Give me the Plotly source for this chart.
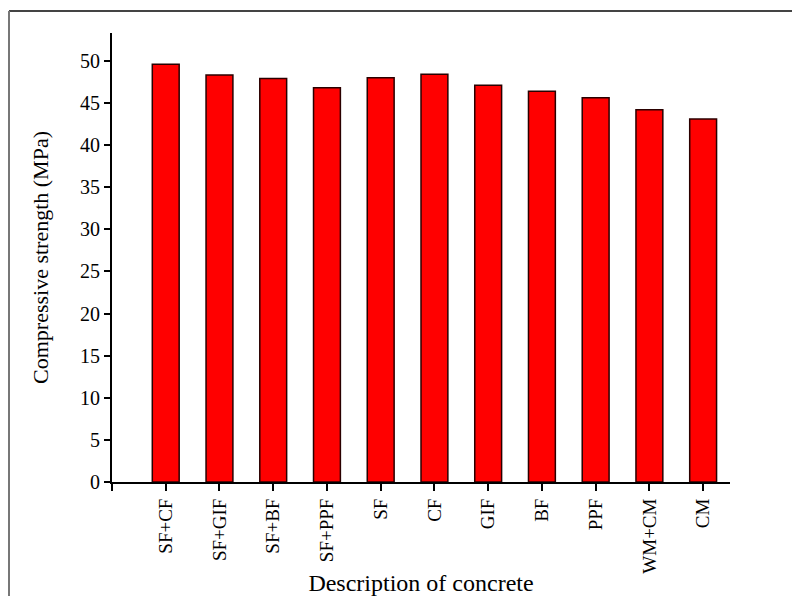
import plotly.graph_objects as go

categories = ["SF+CF", "SF+GIF", "SF+BF", "SF+PPF", "SF", "CF", "GIF", "BF", "PPF", "WM+CM", "CM"]
strength = [49.6, 48.3, 47.9, 46.8, 48.0, 48.4, 47.1, 46.4, 45.6, 44.2, 43.1]
y_ticks = [0, 5, 10, 15, 20, 25, 30, 35, 40, 45, 50]

idx = list(range(len(categories)))
font = "Liberation Serif, Times New Roman, serif"

fig = go.Figure(go.Bar(
    x=idx, y=strength, width=0.5,
    marker=dict(color="#ff0000", line=dict(color="#2a0000", width=1.5)),
))

L, R, T, B = 112, 62, 33, 114
fig.update_layout(
    width=792, height=596,
    margin=dict(l=L, r=R, t=T, b=B),
    paper_bgcolor="white", plot_bgcolor="white",
    font=dict(family=font, color="black"),
    showlegend=False,
    xaxis=dict(
        range=[-1, 10.5], tickmode="array", automargin=False,
        tickvals=[-1] + idx, ticktext=[""] + categories,
        tickangle=-90, tickfont=dict(size=19),
        ticks="outside", ticklen=7, tickwidth=2, tickcolor="black",
        showline=True, linecolor="black", linewidth=2,
        showgrid=False, zeroline=False,
        title=dict(text="Description of concrete", font=dict(size=24), standoff=1),
    ),
    yaxis=dict(
        range=[0, 53.3], tickmode="array", tickvals=y_ticks, automargin=False,
        tickfont=dict(size=20),
        ticks="outside", ticklen=6, tickwidth=2, tickcolor="black",
        showline=True, linecolor="black", linewidth=2,
        showgrid=False, zeroline=False,
        title=dict(text="Compressive strength (MPa)", font=dict(size=22), standoff=25),
    ),
)

pw = 792 - L - R
ph = 596 - T - B
x0 = (9 - L) / pw
y1 = (ph + (T - 11)) / ph
fig.add_shape(type="line", xref="paper", yref="paper", x0=x0, x1=(800 - L) / pw, y0=y1, y1=y1,
              line=dict(color="#444", width=2))
fig.add_shape(type="line", xref="paper", yref="paper", x0=x0, x1=x0, y0=y1, y1=-(B + 10) / ph,
              line=dict(color="#777", width=2))

fig.write_html("out.html")
